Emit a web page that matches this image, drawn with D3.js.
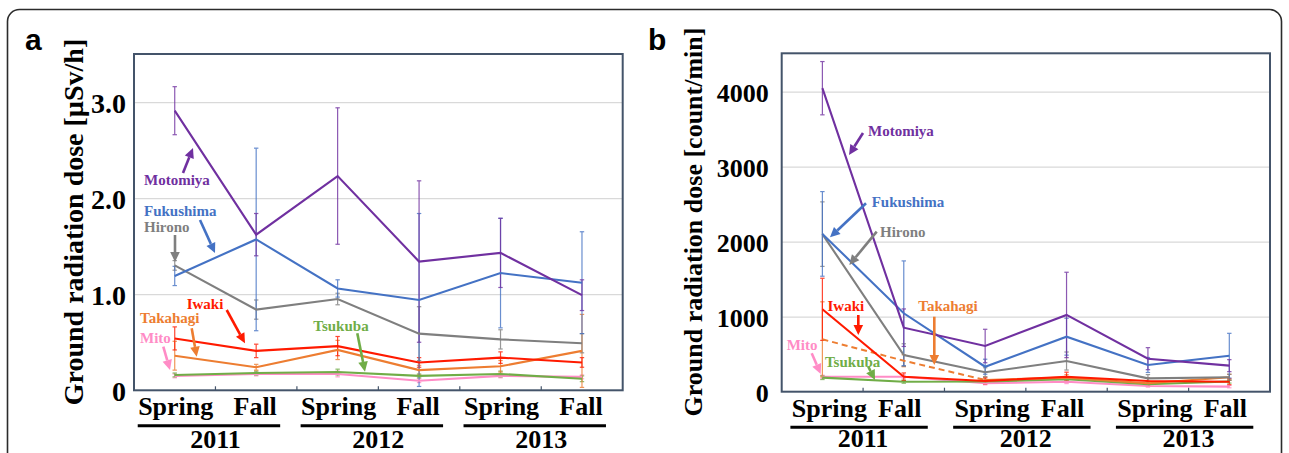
<!DOCTYPE html>
<html>
<head>
<meta charset="utf-8">
<script src="https://cdn.jsdelivr.net/npm/d3@7"></script>
<style>
  body { margin: 0; background: #fff; }
  svg { display: block; }
</style>
</head>
<body>
<svg id="fig" width="1289" height="453"></svg>
<script>
// ---- categories ----
const seasons = ["Spring", "Fall", "Spring", "Fall", "Spring", "Fall"];
const years = ["2011", "2012", "2013"];
// drawing order: lowest lines first, Motomiya on top
const sites = ["Mito", "Tsukuba", "Takahagi", "Iwaki", "Hirono", "Fukushima", "Motomiya"];
const siteColors = ["#FF8CC6", "#70AD47", "#ED7D31", "#FF1A00", "#7F7F7F", "#4472C4", "#7030A0"];

// ---- panel a: ground radiation dose, µSv/h (mean and SD) ----
const usvMito        = [0.15, 0.17, 0.17, 0.10, 0.15, 0.14];
const usvMitoSD      = [0.02, 0.02, 0.03, 0.02, 0.02, 0.02];
const usvTsukuba     = [0.16, 0.18, 0.19, 0.15, 0.17, 0.12];
const usvTsukubaSD   = [0.02, 0.02, 0.03, 0.02, 0.03, 0.03];
const usvTakahagi    = [0.36, 0.24, 0.42, 0.21, 0.25, 0.41];
const usvTakahagiSD  = [0.15, 0.03, 0.10, 0.05, 0.06, 0.38];
const usvIwaki       = [0.54, 0.41, 0.46, 0.29, 0.34, 0.29];
const usvIwakiSD     = [0.12, 0.07, 0.10, 0.05, 0.06, 0.05];
const usvHirono      = [1.30, 0.84, 0.95, 0.59, 0.53, 0.49];
const usvHironoSD    = [0.05, 0.10, 0.06, 0.28, 0.10, 0.10];
const usvFukushima   = [1.19, 1.57, 1.06, 0.94, 1.22, 1.12];
const usvFukushimaSD = [0.10, 0.95, 0.09, 0.90, 0.57, 0.53];
const usvMotomiya    = [2.91, 1.62, 2.23, 1.34, 1.43, 0.99];
const usvMotomiyaSD  = [0.25, 0.22, 0.71, 0.84, 0.36, 0.16];
const usvTicks = [0, 1, 2, 3];
const usvTickLabels = ["0", "1.0", "2.0", "3.0"];

// ---- panel b: ground radiation dose, count/min (mean and SD) ----
const cpmMito        = [200, 200, 112, 133, 76, 67];
const cpmMitoSD      = [20, 20, 20, 25, 15, 15];
const cpmTsukuba     = [187, 133, 135, 165, 100, 135];
const cpmTsukubaSD   = [25, 20, 20, 25, 20, 20];
const cpmTakahagi    = [698, 413, 156, 187, 112, 192];
const cpmTakahagiSD  = [500, 80, 40, 40, 30, 40];
const cpmIwaki       = [1098, 200, 143, 200, 143, 133];
const cpmIwakiSD     = [414, 50, 40, 60, 40, 40];
const cpmHirono      = [2100, 489, 259, 409, 178, 192];
const cpmHironoSD    = [430, 150, 60, 120, 50, 40];
const cpmFukushima   = [2103, 1045, 333, 733, 356, 480];
const cpmFukushimaSD = [564, 698, 100, 246, 100, 298];
const cpmMotomiya    = [4045, 853, 609, 1023, 440, 347];
const cpmMotomiyaSD  = [355, 250, 223, 569, 147, 80];
const cpmTicks = [0, 1000, 2000, 3000, 4000];
const cpmTickLabels = ["0", "1000", "2000", "3000", "4000"];
// Takahagi (count/min) is drawn dashed over its first two segments
const cpmTakahagiDashedSegments = 2;

const SERIF = "'Liberation Serif', 'Times New Roman', serif";
const SANS = "'Liberation Sans', Arial, sans-serif";

const svg = d3.select("#fig");

// outer rounded frame
svg.append("rect")
  .attr("x", 7.5).attr("y", 9.5).attr("width", 1274).attr("height", 490)
  .attr("rx", 12).attr("fill", "none").attr("stroke", "#2b2b2b").attr("stroke-width", 1.6);

function arrow(g, x1, y1, x2, y2, color) {
  const ang = Math.atan2(y2 - y1, x2 - x1);
  const hl = 10, hw = 4.8;
  const bx = x2 - hl * Math.cos(ang), by = y2 - hl * Math.sin(ang);
  g.append("line").attr("x1", x1).attr("y1", y1).attr("x2", bx).attr("y2", by)
    .attr("stroke", color).attr("stroke-width", 2.6);
  const s = Math.sin(ang), c = Math.cos(ang);
  g.append("polygon")
    .attr("points", [[x2, y2], [bx + hw * s, by - hw * c], [bx - hw * s, by + hw * c]].map(p => p.join(",")).join(" "))
    .attr("fill", color);
}

function drawPanel(cfg) {
  const W = cfg.right - cfg.left, H = cfg.bottom - cfg.top;
  const g = svg.append("g").attr("transform", `translate(${cfg.left},${cfg.top})`);

  const x = d3.scaleBand().domain(d3.range(seasons.length)).range([0, W]).padding(0);
  const y = d3.scaleLinear().domain([0, cfg.yMax]).range([H, 0]);

  // horizontal gridlines
  g.append("g")
    .call(d3.axisLeft(y).tickValues(cfg.ticks.filter(t => t > 0)).tickSize(-W).tickFormat(""))
    .call(a => a.select(".domain").remove())
    .call(a => a.selectAll(".tick line").attr("stroke", "#D9D9D9").attr("stroke-width", 1.2));

  // y tick labels
  g.append("g")
    .attr("transform", `translate(${-cfg.tickGap},0)`)
    .call(d3.axisLeft(y).tickValues(cfg.ticks).tickSize(0).tickPadding(0)
      .tickFormat((d, i) => cfg.tickLabels[i]))
    .call(a => a.select(".domain").remove())
    .call(a => a.selectAll("text")
      .attr("font-family", SERIF).attr("font-weight", "bold")
      .attr("font-size", cfg.tickFont).attr("fill", "#000").attr("dy", "0.38em"));

  // season labels under each band
  g.append("g")
    .attr("transform", `translate(0,${H})`)
    .call(d3.axisBottom(x).tickSize(0).tickPadding(0).tickFormat(i => seasons[i]))
    .call(a => a.select(".domain").remove())
    .call(a => a.selectAll("text")
      .attr("font-family", SERIF).attr("font-weight", "bold")
      .attr("font-size", 26).attr("fill", "#000")
      .attr("dy", 0).attr("y", 25)
      .attr("dx", (d) => (d % 2 === 0 ? cfg.springShift : cfg.fallShift)));

  // year underlines and year labels
  years.forEach((yr, k) => {
    const c0 = x(2 * k) + x.bandwidth() / 2, c1 = x(2 * k + 1) + x.bandwidth() / 2;
    g.append("line")
      .attr("x1", c0 - cfg.ulLeft).attr("x2", c1 + cfg.ulRight)
      .attr("y1", H + 35.5).attr("y2", H + 35.5)
      .attr("stroke", "#000").attr("stroke-width", 3);
    g.append("text")
      .attr("x", x(2 * k + 1)).attr("y", 447.5 - cfg.top)
      .attr("text-anchor", "middle")
      .attr("font-family", SERIF).attr("font-weight", "bold").attr("font-size", 26)
      .text(yr);
  });

  // error bars (drawn under the lines)
  const cap = 2.2;
  cfg.series.forEach((s, si) => {
    const col = siteColors[si];
    const eg = g.append("g").attr("stroke", col).attr("stroke-width", 1.2).attr("opacity", 0.8);
    s.mean.forEach((m, i) => {
      const cx = x(i) + x.bandwidth() / 2;
      const lo = Math.max(0, m - s.sd[i]), hi = m + s.sd[i];
      eg.append("line").attr("x1", cx).attr("x2", cx).attr("y1", y(lo)).attr("y2", y(hi));
      eg.append("line").attr("x1", cx - cap).attr("x2", cx + cap).attr("y1", y(lo)).attr("y2", y(lo));
      eg.append("line").attr("x1", cx - cap).attr("x2", cx + cap).attr("y1", y(hi)).attr("y2", y(hi));
    });
  });

  // series lines
  const line = d3.line().x((d, i) => x(d.i) + x.bandwidth() / 2).y(d => y(d.v));
  cfg.series.forEach((s, si) => {
    const col = siteColors[si];
    const pts = s.mean.map((v, i) => ({ i, v }));
    const nd = s.dashed || 0;
    if (nd > 0) {
      g.append("path").datum(pts.slice(0, nd + 1)).attr("d", line)
        .attr("fill", "none").attr("stroke", col).attr("stroke-width", 2)
        .attr("stroke-dasharray", "6,4");
      g.append("path").datum(pts.slice(nd)).attr("d", line)
        .attr("fill", "none").attr("stroke", col).attr("stroke-width", 2.1);
    } else {
      g.append("path").datum(pts).attr("d", line)
        .attr("fill", "none").attr("stroke", col).attr("stroke-width", 2.1)
        .attr("stroke-linejoin", "miter");
    }
  });

  // inner tick marks at band boundaries
  d3.range(1, seasons.length).forEach(i => {
    g.append("line").attr("x1", x(i)).attr("x2", x(i)).attr("y1", H).attr("y2", H - 4)
      .attr("stroke", "#44546A").attr("stroke-width", 1.2);
  });

  // plot frame
  g.append("rect").attr("x", 0).attr("y", 0).attr("width", W).attr("height", H)
    .attr("fill", "none").attr("stroke", "#44546A").attr("stroke-width", 2);

  // site annotations with arrows
  cfg.notes.forEach(n => {
    const col = siteColors[sites.indexOf(n.site)];
    g.append("text").attr("x", n.tx).attr("y", n.ty).attr("dy", "0.35em")
      .attr("font-family", SERIF).attr("font-weight", "bold").attr("font-size", 15)
      .attr("fill", col).text(n.site);
    arrow(g, n.ax1, n.ay1, n.ax2, n.ay2, col);
  });

  // y-axis title
  svg.append("text")
    .attr("transform", `translate(${cfg.titleX},${cfg.titleY}) rotate(-90)`)
    .attr("text-anchor", "middle").attr("dy", "0.35em")
    .attr("font-family", SERIF).attr("font-weight", "bold").attr("font-size", cfg.titleFont)
    .text(cfg.title);

  // panel letter
  svg.append("text").attr("x", cfg.letterX).attr("y", cfg.letterY)
    .attr("font-family", SANS).attr("font-weight", "bold").attr("font-size", 30)
    .text(cfg.letter);
}

drawPanel({
  left: 134, top: 54, right: 622.7, bottom: 390.3, yMax: 3.5,
  ticks: usvTicks, tickLabels: usvTickLabels, tickFont: 28, tickGap: 8,
  springShift: 1, fallShift: -1, ulLeft: 37, ulRight: 24,
  title: "Ground radiation dose [µSv/h]", titleFont: 28, titleX: 73, titleY: 222,
  letter: "a", letterX: 25, letterY: 50,
  series: [
    { mean: usvMito, sd: usvMitoSD },
    { mean: usvTsukuba, sd: usvTsukubaSD },
    { mean: usvTakahagi, sd: usvTakahagiSD },
    { mean: usvIwaki, sd: usvIwakiSD },
    { mean: usvHirono, sd: usvHironoSD },
    { mean: usvFukushima, sd: usvFukushimaSD },
    { mean: usvMotomiya, sd: usvMotomiyaSD }
  ],
  notes: [
    { site: "Motomiya", tx: 10, ty: 126, ax1: 49, ay1: 119, ax2: 59, ay2: 94 },
    { site: "Fukushima", tx: 10, ty: 156.7, ax1: 66, ay1: 166, ax2: 81, ay2: 199 },
    { site: "Hirono", tx: 10, ty: 172.7, ax1: 41, ay1: 181, ax2: 41, ay2: 208 },
    { site: "Iwaki", tx: 52.7, ty: 249.3, ax1: 92.7, ay1: 256, ax2: 111, ay2: 289.3 },
    { site: "Takahagi", tx: 6, ty: 263.3, ax1: 57.7, ay1: 274.3, ax2: 62.7, ay2: 302.7 },
    { site: "Mito", tx: 6, ty: 283.3, ax1: 29.3, ay1: 292.7, ax2: 36, ay2: 316 },
    { site: "Tsukuba", tx: 179.3, ty: 271.7, ax1: 223.3, ay1: 279.3, ax2: 231, ay2: 317.7 }
  ]
});

drawPanel({
  left: 781.7, top: 53.3, right: 1270, bottom: 391.7, yMax: 4510,
  ticks: cpmTicks, tickLabels: cpmTickLabels, tickFont: 26, tickGap: 13,
  springShift: 7, fallShift: -4, ulLeft: 32, ulRight: 24,
  title: "Ground radiation dose [count/min]", titleFont: 26, titleX: 693, titleY: 222,
  letter: "b", letterX: 648, letterY: 50,
  series: [
    { mean: cpmMito, sd: cpmMitoSD },
    { mean: cpmTsukuba, sd: cpmTsukubaSD },
    { mean: cpmTakahagi, sd: cpmTakahagiSD, dashed: cpmTakahagiDashedSegments },
    { mean: cpmIwaki, sd: cpmIwakiSD },
    { mean: cpmHirono, sd: cpmHironoSD },
    { mean: cpmFukushima, sd: cpmFukushimaSD },
    { mean: cpmMotomiya, sd: cpmMotomiyaSD }
  ],
  notes: [
    { site: "Motomiya", tx: 86.3, ty: 77.7, ax1: 81.3, ay1: 79.7, ax2: 67.3, ay2: 101.7 },
    { site: "Fukushima", tx: 90, ty: 148.4, ax1: 84.3, ay1: 150, ax2: 48.3, ay2: 184 },
    { site: "Hirono", tx: 98.3, ty: 178.4, ax1: 95, ay1: 178.4, ax2: 67.6, ay2: 211.7 },
    { site: "Iwaki", tx: 45.8, ty: 252.7, ax1: 76.6, ay1: 261.7, ax2: 76.6, ay2: 281.7 },
    { site: "Takahagi", tx: 136.6, ty: 252.2, ax1: 152.6, ay1: 263.4, ax2: 152.6, ay2: 311.7 },
    { site: "Mito", tx: 5, ty: 291.7, ax1: 30, ay1: 300, ax2: 39, ay2: 320.7 },
    { site: "Tsukuba", tx: 43.3, ty: 308.4, ax1: 86.6, ay1: 313.4, ax2: 93.3, ay2: 326.7 }
  ]
});
</script>
</body>
</html>
